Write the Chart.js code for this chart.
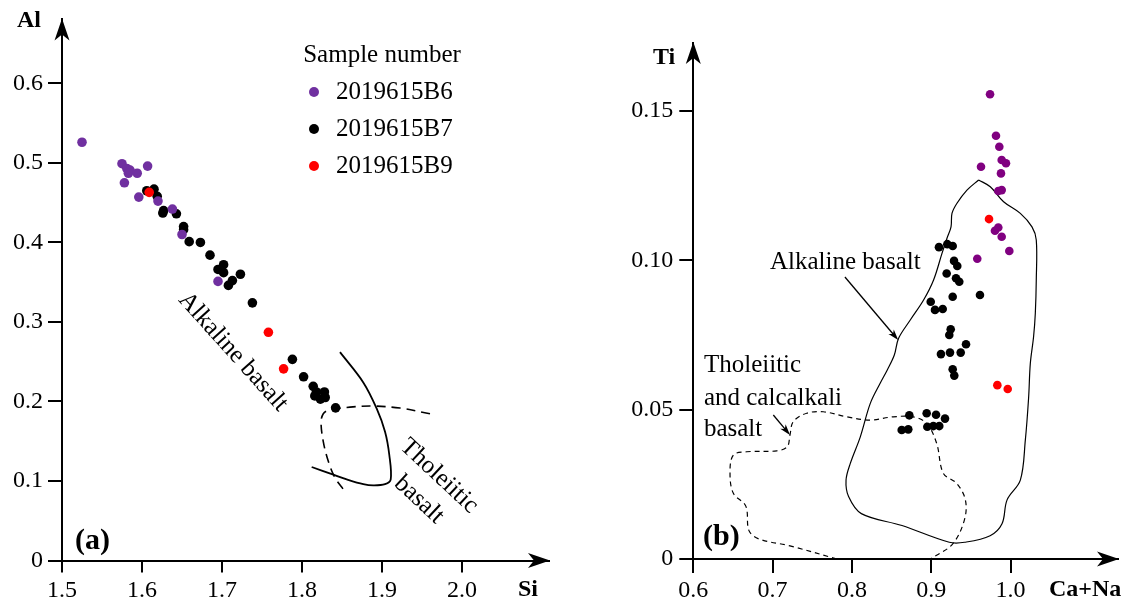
<!DOCTYPE html>
<html>
<head>
<meta charset="utf-8">
<script src="https://cdn.jsdelivr.net/npm/chart.js@4.4.1/dist/chart.umd.min.js"></script>
<style>
  html, body { margin: 0; padding: 0; background: #fff; }
  #wrap { position: relative; width: 1134px; height: 605px; }
  canvas { position: absolute; top: 0; }
  #chartA { left: 0; }
  #chartB { left: 567px; }
</style>
</head>
<body>
<div id="wrap">
  <canvas id="chartA" width="567" height="605"></canvas>
  <canvas id="chartB" width="567" height="605"></canvas>
</div>
<script>
const sampleNames = ['2019615B6', '2019615B7', '2019615B9'];

// (a) Si - Al
const siTicks = [1.5, 1.6, 1.7, 1.8, 1.9, 2.0];
const alTicks = [0, 0.1, 0.2, 0.3, 0.4, 0.5, 0.6];

const siAlB6 = [
  [1.525, 0.526], [1.575, 0.499], [1.581, 0.493], [1.585, 0.491], [1.583, 0.487],
  [1.594, 0.487], [1.607, 0.496], [1.578, 0.475], [1.596, 0.457], [1.620, 0.452],
  [1.638, 0.442], [1.650, 0.410], [1.695, 0.351]
];
const siAlB7 = [
  [1.606, 0.465], [1.615, 0.467], [1.619, 0.458], [1.626, 0.437], [1.627, 0.440],
  [1.643, 0.436], [1.652, 0.420], [1.652, 0.416], [1.659, 0.401], [1.673, 0.400],
  [1.685, 0.384], [1.702, 0.372], [1.695, 0.366], [1.702, 0.362], [1.723, 0.360],
  [1.713, 0.352], [1.708, 0.346], [1.738, 0.324], [1.788, 0.253], [1.802, 0.231],
  [1.814, 0.219], [1.818, 0.212], [1.828, 0.212], [1.823, 0.203], [1.829, 0.205],
  [1.816, 0.207], [1.842, 0.192]
];
const siAlB9 = [[1.609, 0.463], [1.758, 0.287], [1.777, 0.241]];

// field boundaries in Si-Al space
const alkalineEdgeA = [
  [1.8475, 0.262], [1.8766, 0.224], [1.8934, 0.191], [1.9038, 0.162], [1.9091, 0.133],
  [1.9109, 0.102], [1.9038, 0.096], [1.8891, 0.0945], [1.8766, 0.096], [1.8559, 0.102],
  [1.8391, 0.108], [1.8121, 0.1176]
];
const tholeiiticEdgeA = [
  [1.96, 0.1846], [1.9225, 0.1917], [1.8891, 0.1942], [1.86, 0.1929], [1.8329, 0.1888],
  [1.8266, 0.1846], [1.8238, 0.1743], [1.8266, 0.1495], [1.8329, 0.1247], [1.8413, 0.104],
  [1.8525, 0.0883]
];

// (b) Ca+Na - Ti
const caNaTicks = [0.6, 0.7, 0.8, 0.9, 1.0];
const tiTicks = [0, 0.05, 0.10, 0.15];

const caNaTiB6 = [
  [0.9742, 0.1556], [0.9817, 0.1417], [0.9859, 0.1380], [0.9889, 0.1336], [0.9943, 0.1325],
  [0.9628, 0.1313], [0.9880, 0.1291], [0.9846, 0.1232], [0.9889, 0.1235], [0.9846, 0.1110],
  [0.9804, 0.1099], [0.9889, 0.1079], [0.9985, 0.1031], [0.9581, 0.1005]
];
const caNaTiB7 = [
  [0.9098, 0.1044], [0.9203, 0.1054], [0.9271, 0.1048], [0.9288, 0.0998], [0.9329, 0.0981],
  [0.9195, 0.0956], [0.9313, 0.0940], [0.9354, 0.0928], [0.9615, 0.0884], [0.9271, 0.0878],
  [0.8994, 0.0861], [0.9048, 0.0834], [0.9145, 0.0837], [0.9246, 0.0769], [0.9228, 0.0750],
  [0.9439, 0.0719], [0.9123, 0.0686], [0.9237, 0.0691], [0.9372, 0.0691], [0.9271, 0.0635],
  [0.9291, 0.0614], [0.8724, 0.0481], [0.8943, 0.0488], [0.9061, 0.0483], [0.9174, 0.0470],
  [0.8628, 0.0432], [0.8711, 0.0434], [0.8951, 0.0443], [0.9027, 0.0445], [0.9102, 0.0445]
];
const caNaTiB9 = [[0.9729, 0.1138], [0.9834, 0.0582], [0.9965, 0.0569]];

// field boundaries in Ca+Na - Ti space
const alkalineEdgeB = [
  [0.9598, 0.1269], [0.9745, 0.1246], [0.9913, 0.1196], [1.0124, 0.1157], [1.0271, 0.1112],
  [1.0325, 0.1068], [1.0325, 0.0934], [1.0313, 0.0823], [1.0291, 0.0744], [1.0250, 0.0655],
  [1.0228, 0.0538], [1.0187, 0.0398], [1.0124, 0.0264], [0.9957, 0.0198], [0.9893, 0.0118],
  [0.9743, 0.0078], [0.9422, 0.0056], [0.9228, 0.0056], [0.8632, 0.0112], [0.8119, 0.0152],
  [0.7958, 0.0209], [0.7926, 0.0264], [0.7980, 0.0320], [0.8106, 0.0409], [0.8232, 0.0521],
  [0.8358, 0.0589], [0.8446, 0.0633], [0.8535, 0.0683], [0.8589, 0.0739], [0.8736, 0.0800],
  [0.8904, 0.0867], [0.9030, 0.0934], [0.9136, 0.1023], [0.9199, 0.1074], [0.9250, 0.1112],
  [0.9262, 0.1157], [0.9325, 0.1191], [0.9451, 0.1235], [0.9598, 0.1269]
];
const tholeiiticEdgeB = [
  [0.7812, 0.0], [0.7219, 0.0044], [0.6828, 0.0067], [0.6702, 0.0095], [0.6662, 0.0177],
  [0.6505, 0.0220], [0.6463, 0.0287], [0.6505, 0.0348], [0.6673, 0.0359], [0.7052, 0.0362],
  [0.7185, 0.0376], [0.7219, 0.0415], [0.7261, 0.0460], [0.7430, 0.0488], [0.7639, 0.0493],
  [0.7934, 0.0476], [0.8228, 0.0465], [0.8522, 0.0476], [0.8774, 0.0476], [0.8943, 0.0454],
  [0.9069, 0.0387], [0.9153, 0.0287], [0.9322, 0.0253], [0.9431, 0.0198], [0.9419, 0.0131],
  [0.9269, 0.0050], [0.8991, 0.0]
];

const SERIF = '"Liberation Serif", "Times New Roman", serif';
const tickFont = { family: SERIF, size: 24 };

function toXY(pts) {
  return pts.map(p => ({ x: p[0], y: p[1] }));
}

function dots(label, pts, color, radius, order) {
  return {
    label, sample: true, data: toXY(pts), showLine: false,
    backgroundColor: color, borderColor: color,
    pointRadius: radius, pointBorderWidth: 0, order
  };
}

function edge(pts, dash, width) {
  return {
    label: '', data: toXY(pts), showLine: true, fill: false,
    borderColor: '#000', borderWidth: width, borderDash: dash,
    pointRadius: 0, tension: 0.35, order: 10
  };
}

function axis(min, max, ticks, digits, tickLen, pad, extent, vertical) {
  return {
    type: 'linear', min, max,
    afterBuildTicks: s => { s.ticks = ticks.map(v => ({ value: v })); },
    afterFit: s => { if (vertical) s.width = extent; else s.height = extent; },
    grid: { drawOnChartArea: false, drawTicks: true, tickLength: tickLen,
            tickWidth: 2, lineWidth: 2, tickColor: '#000', color: '#000' },
    border: { display: true, color: '#000', width: 2 },
    ticks: { color: '#000', font: tickFont, padding: pad, autoSkip: false, maxRotation: 0,
             callback: v => (v === 0 ? '0' : v.toFixed(digits)) }
  };
}

function arrowHead(ctx, x, y, dir) {
  ctx.save();
  ctx.translate(x, y);
  if (dir === 'right') ctx.rotate(Math.PI / 2);
  ctx.beginPath();
  ctx.moveTo(0, -1);
  ctx.lineTo(7.5, 21);
  ctx.lineTo(0, 15);
  ctx.lineTo(-7.5, 21);
  ctx.closePath();
  ctx.fillStyle = '#000';
  ctx.fill();
  ctx.restore();
}

function pointer(ctx, x1, y1, x2, y2) {
  const ang = Math.atan2(y2 - y1, x2 - x1);
  ctx.save();
  ctx.strokeStyle = '#000';
  ctx.fillStyle = '#000';
  ctx.lineWidth = 1.3;
  ctx.beginPath();
  ctx.moveTo(x1, y1);
  ctx.lineTo(x2 - 6 * Math.cos(ang), y2 - 6 * Math.sin(ang));
  ctx.stroke();
  ctx.translate(x2, y2);
  ctx.rotate(ang);
  ctx.beginPath();
  ctx.moveTo(0, 0);
  ctx.lineTo(-11, -3.5);
  ctx.lineTo(-8, 0);
  ctx.lineTo(-11, 3.5);
  ctx.closePath();
  ctx.fill();
  ctx.restore();
}

function label(ctx, str, x, y, font, align, deg) {
  ctx.save();
  ctx.font = font;
  ctx.fillStyle = '#000';
  ctx.textAlign = align || 'left';
  ctx.textBaseline = 'middle';
  ctx.translate(x, y);
  if (deg) ctx.rotate(deg * Math.PI / 180);
  ctx.fillText(str, 0, 0);
  ctx.restore();
}

const textFont = '25px ' + SERIF;
const titleFont = 'bold 24px ' + SERIF;
const panelFont = 'bold 30px ' + SERIF;

const decorA = {
  id: 'decorA',
  afterDraw(chart) {
    const { ctx, chartArea: a, scales: { x, y } } = chart;
    arrowHead(ctx, a.left, a.top, 'up');
    arrowHead(ctx, a.right, a.bottom, 'right');
    label(ctx, 'Al', 17, 21, titleFont);
    label(ctx, 'Si', 518, 590, titleFont);
    label(ctx, '(a)', 75, 541, panelFont);

    // sample legend
    label(ctx, 'Sample number', 382, 55, textFont, 'center');
    const rows = [92, 129, 166];
    chart.data.datasets.filter(d => d.sample).forEach((d, i) => {
      ctx.beginPath();
      ctx.arc(314, rows[i], 5, 0, Math.PI * 2);
      ctx.fillStyle = d.backgroundColor;
      ctx.fill();
      label(ctx, d.label, 336, rows[i], textFont);
    });

    label(ctx, 'Alkaline basalt', x.getPixelForValue(1.7138), y.getPixelForValue(0.2624), textFont, 'center', 48);
    label(ctx, 'Tholeiitic', x.getPixelForValue(1.9713), y.getPixelForValue(0.1061), textFont, 'center', 43);
    label(ctx, 'basalt', x.getPixelForValue(1.9463), y.getPixelForValue(0.0763), textFont, 'center', 43);
  }
};

const decorB = {
  id: 'decorB',
  afterDraw(chart) {
    const { ctx, chartArea: a, scales: { x, y } } = chart;
    arrowHead(ctx, a.left, a.top, 'up');
    arrowHead(ctx, a.right, a.bottom, 'right');
    label(ctx, 'Ti', 86, 58, titleFont);
    label(ctx, 'Ca+Na', 482, 590, titleFont);
    label(ctx, '(b)', 136, 537, panelFont);

    label(ctx, 'Alkaline basalt', x.getPixelForValue(0.6967), y.getPixelForValue(0.0994), textFont);
    pointer(ctx, x.getPixelForValue(0.7912), y.getPixelForValue(0.0944),
                 x.getPixelForValue(0.8584), y.getPixelForValue(0.0733));

    const lx = x.getPixelForValue(0.6134);
    label(ctx, 'Tholeiitic', lx, y.getPixelForValue(0.0649), textFont);
    label(ctx, 'and calcalkali', lx, y.getPixelForValue(0.0539), textFont);
    label(ctx, 'basalt', lx, y.getPixelForValue(0.0435), textFont);
    pointer(ctx, x.getPixelForValue(0.7009), y.getPixelForValue(0.0482),
                 x.getPixelForValue(0.7219), y.getPixelForValue(0.0415));
  }
};

const common = {
  responsive: false,
  animation: false,
  devicePixelRatio: 1,
  events: [],
  plugins: { legend: { display: false }, tooltip: { enabled: false } }
};

new Chart(document.getElementById('chartA'), {
  type: 'scatter',
  data: {
    datasets: [
      dots(sampleNames[0], siAlB6, '#7030A0', 4.8, 1),
      dots(sampleNames[1], siAlB7, '#000000', 4.8, 3),
      dots(sampleNames[2], siAlB9, '#FF0000', 4.8, 2),
      edge(alkalineEdgeA, [], 1.8),
      edge(tholeiiticEdgeA, [9, 6], 1.6)
    ]
  },
  options: Object.assign({}, common, {
    layout: { padding: { left: 0, top: 12, right: 18, bottom: 0 } },
    scales: {
      x: axis(1.5, 2.10875, siTicks, 1, 12, 4, 44.5, false),
      y: axis(0, 0.6805, alTicks, 1, 14, 5, 62, true)
    }
  }),
  plugins: [decorA]
});

new Chart(document.getElementById('chartB'), {
  type: 'scatter',
  data: {
    datasets: [
      dots(sampleNames[0], caNaTiB6, '#800080', 4.3, 1),
      dots(sampleNames[1], caNaTiB7, '#000000', 4.3, 3),
      dots(sampleNames[2], caNaTiB9, '#FF0000', 4.3, 2),
      edge(alkalineEdgeB, [], 1.2),
      edge(tholeiiticEdgeB, [5, 4], 1.2)
    ]
  },
  options: Object.assign({}, common, {
    layout: { padding: { left: 0, top: 43, right: 16, bottom: 0 } },
    scales: {
      x: axis(0.6, 1.13556, caNaTicks, 1, 14, 3, 46, false),
      y: axis(0, 0.17275, tiTicks, 2, 14, 6, 126.3, true)
    }
  }),
  plugins: [decorB]
});
</script>
</body>
</html>
